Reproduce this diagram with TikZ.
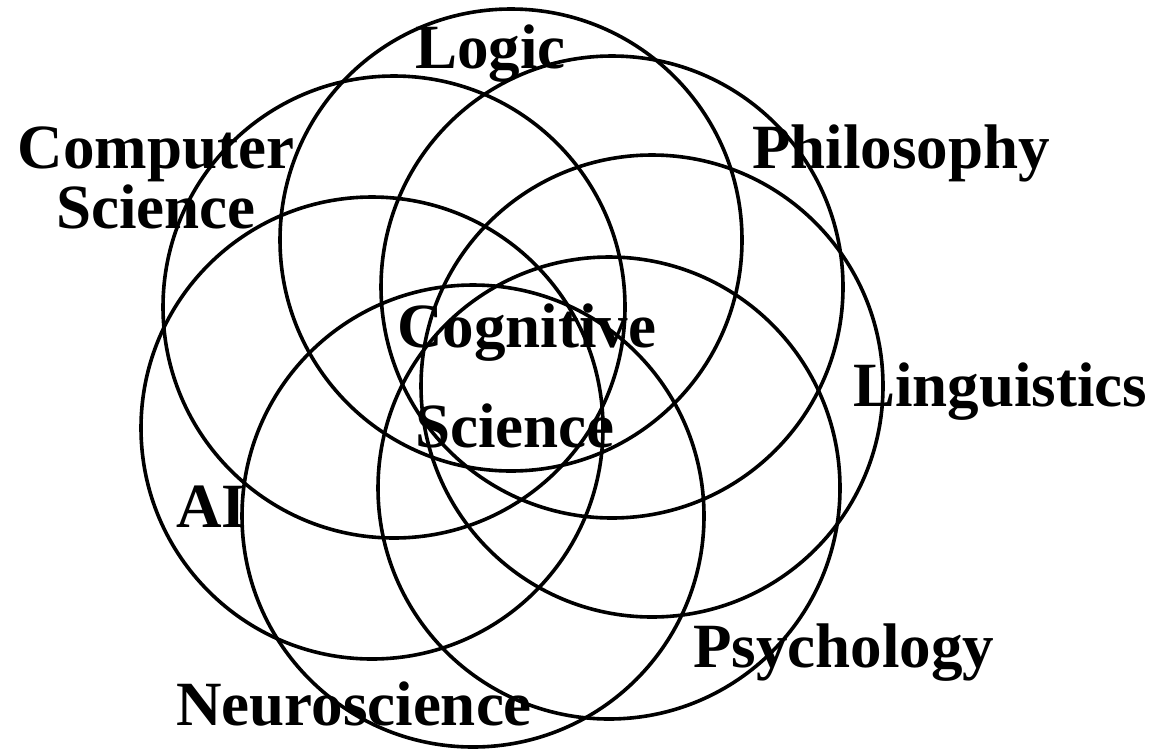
\documentclass[tikz,border=0pt]{standalone}
\usepackage{fontspec}
\setmainfont{Liberation Serif}
\tikzset{
  ring/.style={draw=black, line width=3.6pt},
  lbl/.style={font=\bfseries\fontsize{63}{60}\selectfont, inner sep=0pt, anchor=base west, align=center}
}
\begin{document}
\begin{tikzpicture}[x=1pt,y=-1pt]
\useasboundingbox (0,0) rectangle (1155,750);
\coordinate (cLogic) at (511,240);
\coordinate (cPhil) at (612,287);
\coordinate (cLing) at (652,386);
\coordinate (cPsych) at (609,488);
\coordinate (cNeuro) at (473,516);
\coordinate (cAI) at (372,428);
\coordinate (cCS) at (394,307);
\foreach \c in {cLogic,cPhil,cLing,cPsych,cNeuro,cAI,cCS}
  \draw[ring] (\c) circle (231);
\node[lbl] (logic) at (415,68) {Logic};
\node[lbl, anchor=base] (cs1) at (156,168) {Computer};
\node[lbl, anchor=base] (cs2) at (156,228) {Science};
\node[lbl] (phil) at (752,168) {Philosophy};
\node[lbl] (ling) at (853,406) {Linguistics};
\node[lbl] (psych) at (693,667) {Psychology};
\node[lbl] (neuro) at (176,725) {Neuroscience};
\node[lbl] (ai) at (176,527) {AI};
\node[lbl] (cog1) at (397,347) {Cognitive};
\node[lbl] (cog2) at (415,447) {Science};
\end{tikzpicture}
\end{document}
